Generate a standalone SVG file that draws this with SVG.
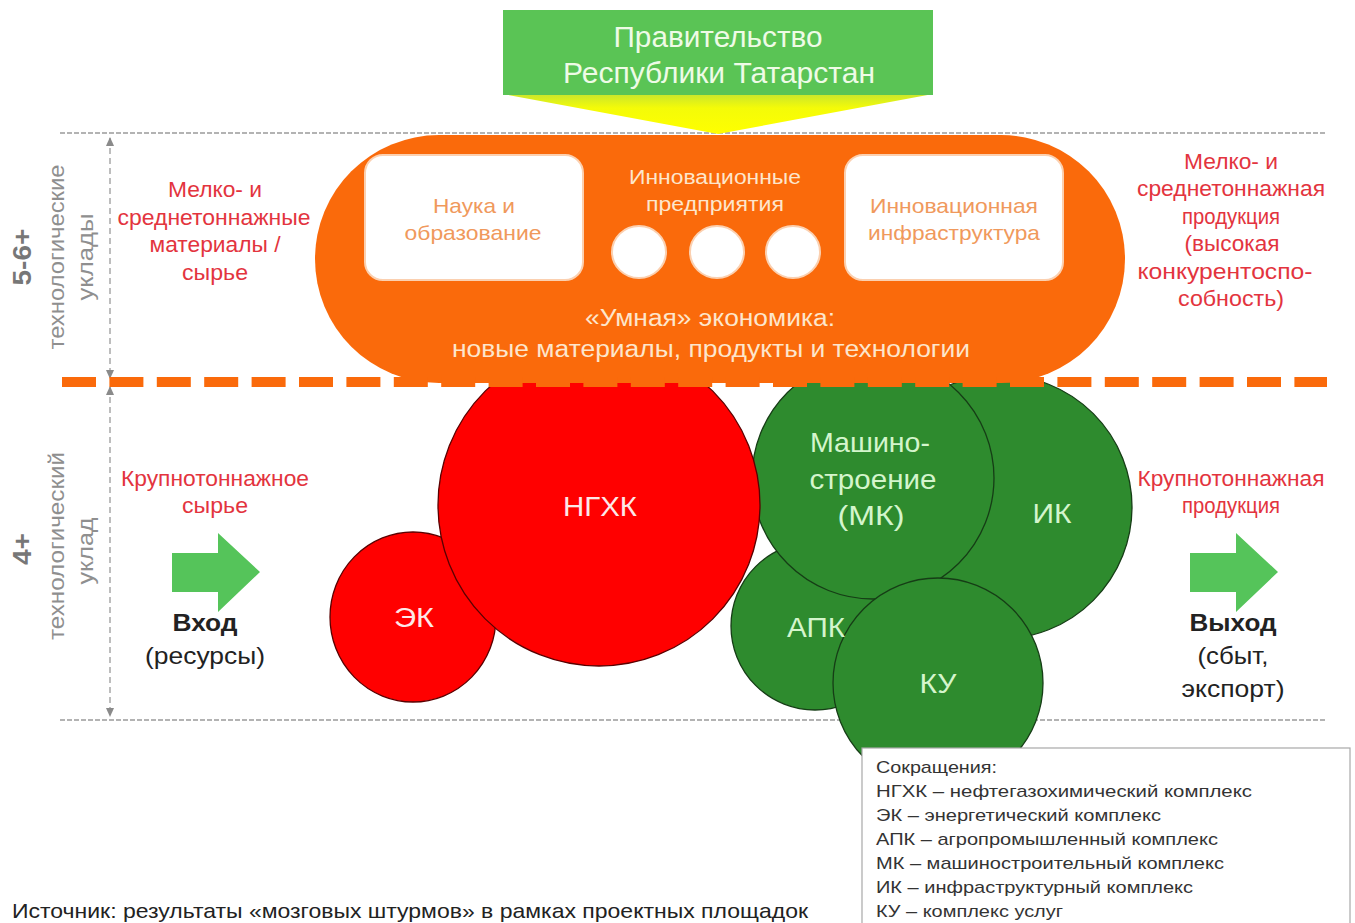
<svg xmlns="http://www.w3.org/2000/svg" width="1355" height="923" viewBox="0 0 1355 923">
<style>
text{font-family:"Liberation Sans",Arial,sans-serif}
.red{fill:#e3343e;font-size:22px;text-anchor:middle}
.gov{fill:#eefbe6;font-size:29px;text-anchor:middle}
.box{fill:#ffffff;stroke:#fbd0b0;stroke-width:2}
.boxt{fill:#f0995c;font-size:21px;text-anchor:middle}
.cream{fill:#fde6cc;text-anchor:middle}
.rc{fill:#ff0000;stroke:#5a0000;stroke-width:1.3}
.gc{fill:#2e8b2e;stroke:#163d16;stroke-width:1.3}
.rl{fill:#fde8e8;font-size:27px;text-anchor:middle}
.gl{fill:#d4f5cc;font-size:28px;text-anchor:middle}
.io{fill:#222;font-size:24px;text-anchor:middle}
.vt{fill:#8f8f8f;font-size:22px;text-anchor:middle}
.vb{fill:#777;font-size:25px;font-weight:bold;text-anchor:middle}
.leg{fill:#333;font-size:17px}
.gd{stroke:#9a9a9a;stroke-width:1.5;stroke-dasharray:5 2;fill:none}
.ax{stroke:#9a9a9a;stroke-width:1.3;stroke-dasharray:6 4;fill:none;marker-start:url(#ah);marker-end:url(#ah)}
.arr{fill:#55c45a}
</style>
<defs>
<marker id="ah" markerWidth="10" markerHeight="10" refX="8" refY="5" orient="auto-start-reverse" markerUnits="userSpaceOnUse">
<path d="M0,1 L9,5 L0,9 z" fill="#8a8a8a"/>
</marker>
<linearGradient id="yg" x1="0" y1="0" x2="0" y2="1">
<stop offset="0" stop-color="#c9e62c"/>
<stop offset="0.35" stop-color="#f4fb08"/>
<stop offset="1" stop-color="#ffff00"/>
</linearGradient>
</defs>

<g id="guides">
<line class="gd" x1="60" y1="133" x2="1327" y2="133"/>
<line class="gd" x1="60" y1="720" x2="1327" y2="720"/>
<line class="ax" x1="110" y1="138" x2="110" y2="378"/>
<line class="ax" x1="110" y1="387" x2="110" y2="716"/>
</g>

<g id="circles">
<g id="ik"><circle class="gc" cx="1000" cy="507" r="132"/></g>
<g id="apk"><circle class="gc" cx="815" cy="626" r="84"/></g>
<g id="mk"><circle class="gc" cx="873" cy="478" r="121"/></g>
<g id="ku"><circle class="gc" cx="938" cy="683" r="105"/></g>
<g id="ek"><ellipse class="rc" cx="413" cy="617" rx="83" ry="85"/></g>
<g id="ngxk"><circle class="rc" cx="599" cy="505" r="161"/></g>
</g>

<g id="smart-economy">
<rect x="315" y="135" width="810" height="248" rx="124" ry="124" fill="#fa6a0b"/>
<line x1="62" y1="382" x2="1327" y2="382" stroke="#fa6a0b" stroke-width="10" stroke-dasharray="34 13.4"/>
<text class="cream" x="710" y="326" font-size="23" textLength="250" lengthAdjust="spacingAndGlyphs">«Умная» экономика:</text>
<text class="cream" x="711" y="357" font-size="23" textLength="518" lengthAdjust="spacingAndGlyphs">новые материалы, продукты и технологии</text>
</g>

<g id="science">
<rect class="box" x="365" y="155" width="218" height="125" rx="18"/>
<text class="boxt" x="474" y="213" textLength="82" lengthAdjust="spacingAndGlyphs">Наука и</text>
<text class="boxt" x="473" y="240" textLength="137" lengthAdjust="spacingAndGlyphs">образование</text>
</g>

<g id="enterprises">
<text class="cream" x="715" y="184" font-size="20" textLength="172" lengthAdjust="spacingAndGlyphs">Инновационные</text>
<text class="cream" x="715" y="211" font-size="20" textLength="138" lengthAdjust="spacingAndGlyphs">предприятия</text>
<ellipse cx="639" cy="252" rx="27" ry="26" fill="#fff" stroke="#fbd0b0" stroke-width="2"/>
<ellipse cx="717" cy="252" rx="27" ry="26" fill="#fff" stroke="#fbd0b0" stroke-width="2"/>
<ellipse cx="793" cy="252" rx="27" ry="26" fill="#fff" stroke="#fbd0b0" stroke-width="2"/>
</g>

<g id="infrastructure">
<rect class="box" x="845" y="155" width="218" height="125" rx="18"/>
<text class="boxt" x="954" y="213" textLength="168" lengthAdjust="spacingAndGlyphs">Инновационная</text>
<text class="boxt" x="954" y="240" textLength="172" lengthAdjust="spacingAndGlyphs">инфраструктура</text>
</g>

<g id="government">
<polygon points="503,94 933,94 718,134" fill="url(#yg)"/>
<rect x="503" y="10" width="430" height="85" fill="#5ac455"/>
<text class="gov" x="718" y="47" textLength="209" lengthAdjust="spacingAndGlyphs">Правительство</text>
<text class="gov" x="719" y="83" textLength="312" lengthAdjust="spacingAndGlyphs">Республики  Татарстан</text>
</g>

<g id="circle-labels">
<text class="rl" x="600" y="516" textLength="74" lengthAdjust="spacingAndGlyphs">НГХК</text>
<text class="rl" x="414" y="627" textLength="40" lengthAdjust="spacingAndGlyphs">ЭК</text>
<text class="gl" x="870" y="452" textLength="120" lengthAdjust="spacingAndGlyphs">Машино-</text>
<text class="gl" x="873" y="489" textLength="127" lengthAdjust="spacingAndGlyphs">строение</text>
<text class="gl" x="871" y="525" textLength="67" lengthAdjust="spacingAndGlyphs">(МК)</text>
<text class="gl" x="1052" y="523" textLength="39" lengthAdjust="spacingAndGlyphs">ИК</text>
<text class="gl" x="816" y="637" textLength="58" lengthAdjust="spacingAndGlyphs">АПК</text>
<text class="gl" x="938" y="693" textLength="37" lengthAdjust="spacingAndGlyphs">КУ</text>
</g>

<g id="left-labels">
<text class="vb" transform="rotate(-90 31 257)" x="31" y="257" textLength="57" lengthAdjust="spacingAndGlyphs">5-6+</text>
<text class="vt" transform="rotate(-90 64 257)" x="64" y="257" textLength="185" lengthAdjust="spacingAndGlyphs">технологические</text>
<text class="vt" transform="rotate(-90 93 257)" x="93" y="257" textLength="87" lengthAdjust="spacingAndGlyphs">уклады</text>
<text class="vb" transform="rotate(-90 31 549)" x="31" y="549" textLength="32" lengthAdjust="spacingAndGlyphs">4+</text>
<text class="vt" transform="rotate(-90 64 546)" x="64" y="546" textLength="188" lengthAdjust="spacingAndGlyphs">технологический</text>
<text class="vt" transform="rotate(-90 93 551)" x="93" y="551" textLength="67" lengthAdjust="spacingAndGlyphs">уклад</text>
</g>

<g id="input-materials">
<text class="red" x="215" y="197" textLength="94" lengthAdjust="spacingAndGlyphs">Мелко- и</text>
<text class="red" x="214" y="225" textLength="193" lengthAdjust="spacingAndGlyphs">среднетоннажные</text>
<text class="red" x="215" y="252" textLength="131" lengthAdjust="spacingAndGlyphs">материалы /</text>
<text class="red" x="215" y="280" textLength="66" lengthAdjust="spacingAndGlyphs">сырье</text>
</g>

<g id="output-products">
<text class="red" x="1231" y="169" textLength="94" lengthAdjust="spacingAndGlyphs">Мелко- и</text>
<text class="red" x="1231" y="196" textLength="188" lengthAdjust="spacingAndGlyphs">среднетоннажная</text>
<text class="red" x="1231" y="224" textLength="98" lengthAdjust="spacingAndGlyphs">продукция</text>
<text class="red" x="1232" y="251" textLength="95" lengthAdjust="spacingAndGlyphs">(высокая</text>
<text class="red" x="1225" y="279" textLength="175" lengthAdjust="spacingAndGlyphs">конкурентоспо-</text>
<text class="red" x="1231" y="306" textLength="106" lengthAdjust="spacingAndGlyphs">собность)</text>
</g>

<g id="input">
<text class="red" x="215" y="486" textLength="188" lengthAdjust="spacingAndGlyphs">Крупнотоннажное</text>
<text class="red" x="215" y="513" textLength="66" lengthAdjust="spacingAndGlyphs">сырье</text>
<polygon class="arr" points="172,553 218,553 218,533 260,572 218,612 218,592 172,592"/>
<text class="io" x="205" y="631" font-weight="bold" textLength="65" lengthAdjust="spacingAndGlyphs">Вход</text>
<text class="io" x="205" y="664" fill="#333" textLength="120" lengthAdjust="spacingAndGlyphs">(ресурсы)</text>
</g>

<g id="output">
<text class="red" x="1231" y="486" textLength="187" lengthAdjust="spacingAndGlyphs">Крупнотоннажная</text>
<text class="red" x="1231" y="513" textLength="98" lengthAdjust="spacingAndGlyphs">продукция</text>
<polygon class="arr" points="1190,553 1236,553 1236,533 1278,572 1236,612 1236,592 1190,592"/>
<text class="io" x="1233" y="631" font-weight="bold" textLength="87" lengthAdjust="spacingAndGlyphs">Выход</text>
<text class="io" x="1233" y="664" textLength="71" lengthAdjust="spacingAndGlyphs">(сбыт,</text>
<text class="io" x="1233" y="697" textLength="103" lengthAdjust="spacingAndGlyphs">экспорт)</text>
</g>

<g id="legend">
<rect x="862" y="748" width="488" height="190" fill="#fff" stroke="#a8a8a8" stroke-width="1.2"/>
<text class="leg" x="876" y="773" textLength="121" lengthAdjust="spacingAndGlyphs">Сокращения:</text>
<text class="leg" x="876" y="797" textLength="376" lengthAdjust="spacingAndGlyphs">НГХК – нефтегазохимический  комплекс</text>
<text class="leg" x="876" y="821" textLength="285" lengthAdjust="spacingAndGlyphs">ЭК – энергетический комплекс</text>
<text class="leg" x="876" y="845" textLength="342" lengthAdjust="spacingAndGlyphs">АПК – агропромышленный комплекс</text>
<text class="leg" x="876" y="869" textLength="348" lengthAdjust="spacingAndGlyphs">МК – машиностроительный комплекс</text>
<text class="leg" x="876" y="893" textLength="317" lengthAdjust="spacingAndGlyphs">ИК – инфраструктурный комплекс</text>
<text class="leg" x="876" y="917" textLength="187" lengthAdjust="spacingAndGlyphs">КУ – комплекс услуг</text>
</g>

<g id="source">
<text x="12" y="918" fill="#222" font-size="21" textLength="796" lengthAdjust="spacingAndGlyphs">Источник: результаты «мозговых штурмов» в рамках проектных площадок</text>
</g>
</svg>
